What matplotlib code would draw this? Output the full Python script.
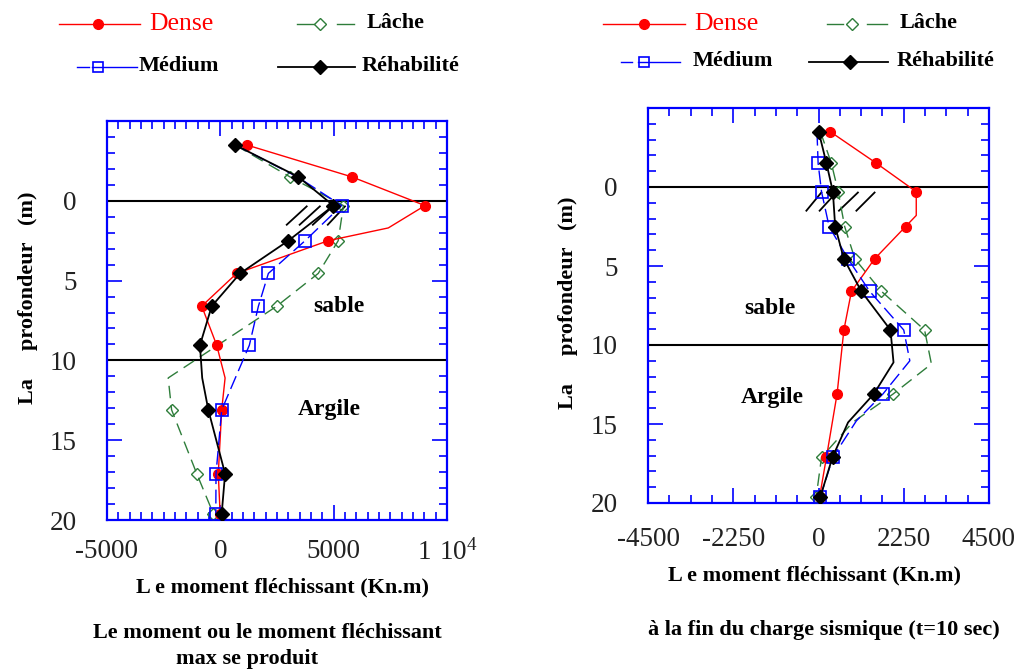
import matplotlib
matplotlib.use("Agg")
import matplotlib.pyplot as plt
from matplotlib.lines import Line2D
from matplotlib.ticker import MultipleLocator, FixedLocator, FixedFormatter

plt.rcParams['font.family'] = ['Liberation Serif', 'DejaVu Serif']
plt.rcParams['mathtext.fontset'] = 'custom'
plt.rcParams['mathtext.rm'] = 'Liberation Serif'

# ---------------- data ----------------
# Left chart: moment at the instant of maximum bending moment
L_dense_depth = [-3.5, -1.5, 0.3, 1.7, 2.5, 4.55, 6.6, 9.05, 11.1, 13.1, 17.1, 19.6]
L_dense_val   = [1160, 5800, 9030, 7410, 4760, 720, -820, -160, 210, 60, -90, -10]
L_dense_mk    = [0, 1, 2, 4, 5, 6, 7, 9, 10, 11]

L_lache_depth = [-3.5, -1.5, 0.3, 2.5, 4.55, 6.6, 11.1, 13.1, 17.1, 19.6]
L_lache_val   = [650, 3070, 5430, 5200, 4320, 2490, -2300, -2150, -1040, -310]
L_lache_mk    = [0, 1, 2, 3, 4, 5, 7, 8, 9]

L_medium_depth = [-3.5, -1.5, 0.3, 2.5, 4.55, 6.6, 9.05, 13.1, 17.1, 19.6]
L_medium_val   = [650, 3400, 5350, 3740, 2120, 1680, 1280, 60, -190, -200]
L_medium_mk    = [2, 3, 4, 5, 6, 7, 8, 9]

L_rehab_depth = [-3.5, -1.5, 0.3, 2.5, 4.55, 6.6, 9.05, 11.1, 13.1, 17.1, 19.6]
L_rehab_val   = [650, 3440, 4990, 3000, 870, -380, -900, -800, -530, 210, 60]
L_rehab_mk    = [0, 1, 2, 3, 4, 5, 6, 8, 9, 10]

# Right chart: at the end of the seismic loading (t=10 sec)
R_dense_depth = [-3.5, -1.5, 0.3, 1.8, 2.5, 4.55, 6.6, 9.05, 13.1, 17.1, 19.6]
R_dense_val   = [310, 1530, 2580, 2580, 2300, 1480, 870, 670, 490, 210, 30]
R_dense_mk    = [0, 1, 2, 4, 5, 6, 7, 8, 9, 10]

R_lache_depth = [-3.5, -1.5, 0.3, 2.5, 4.55, 6.6, 9.05, 11.2, 13.1, 14.9, 17.1, 19.6]
R_lache_val   = [50, 340, 520, 690, 960, 1660, 2800, 2980, 1970, 900, 80, -60]
R_lache_mk    = [0, 1, 2, 3, 4, 5, 6, 8, 10, 11]

R_medium_depth = [-3.5, -1.5, 0.3, 2.5, 4.55, 6.6, 9.05, 11.0, 13.1, 14.8, 17.1, 19.6]
R_medium_val   = [-40, -10, 80, 280, 780, 1350, 2250, 2410, 1700, 1000, 380, 50]
R_medium_mk    = [1, 2, 3, 4, 5, 6, 8, 10, 11]

R_rehab_depth = [-3.5, -1.5, 0.3, 2.5, 4.55, 6.6, 9.05, 11.1, 13.1, 14.9, 17.1, 19.6]
R_rehab_val   = [5, 210, 380, 440, 670, 1130, 1900, 1980, 1460, 780, 370, 50]
R_rehab_mk    = [0, 1, 2, 3, 4, 5, 6, 8, 10, 11]

# layer boundaries (m)
layer_lines = [0, 10]

# ground-surface hatch strokes (x start, x end, depth start, depth end)
L_hatch_x0 = [2930, 3500, 4080, 4740]
L_hatch_x1 = [3810, 4390, 4960, 5500]
R_hatch_x0 = [-320, 30, 540, 1000]
R_hatch_x1 = [75, 470, 1040, 1480]
hatch_d0, hatch_d1 = 1.5, 0.35

x_ticks_left = [-5000, 0, 5000, 10000]
x_ticklabels_left = ['-5000', '0', '5000', r'$\mathregular{1\ 10^{4}}$']
x_ticks_right = [-4500, -2250, 0, 2250, 4500]
x_ticklabels_right = ['-4500', '-2250', '0', '2250', '4500']
y_ticks = [-5, 0, 5, 10, 15, 20]
y_ticklabels = ['', '0', '5', '10', '15', '20']

RED = '#ff0000'
GREEN = '#2e7d3a'
BLUE = '#0000ff'
BLACK = '#000000'

W, H = 1019, 671
fig = plt.figure(figsize=(W / 100, H / 100), dpi=100)


def fx(px):
    return px / W


def fy(py):
    return 1 - py / H


def make_axes(l, t, r, b):
    return fig.add_axes([fx(l), fy(b), fx(r - l), (b - t) / H])


def style_axes(ax, xlim, xt, xtl, xminor, xpad, ypad):
    ax.set_xlim(*xlim)
    ax.set_ylim(20, -5)
    ax.xaxis.set_major_locator(FixedLocator(xt))
    ax.xaxis.set_major_formatter(FixedFormatter(xtl))
    ax.xaxis.set_minor_locator(MultipleLocator(xminor))
    ax.yaxis.set_major_locator(FixedLocator(y_ticks))
    ax.yaxis.set_major_formatter(FixedFormatter(y_ticklabels))
    ax.yaxis.set_minor_locator(MultipleLocator(1))
    ax.tick_params(which='both', direction='in', top=True, right=True,
                   color=BLUE, width=1.2, labelsize=19.5, labelcolor='#222222')
    ax.tick_params(which='major', length=11)
    ax.tick_params(which='minor', length=6)
    ax.tick_params(axis='x', which='major', pad=xpad)
    ax.tick_params(axis='y', which='major', pad=ypad)
    for s in ax.spines.values():
        s.set_color(BLUE)
        s.set_linewidth(1.6)
    for yl in layer_lines:
        ax.axhline(yl, color=BLACK, lw=1.5, zorder=2)


def plot_series(ax, dense, lache, medium, rehab):
    d, v, m = lache
    ax.plot(v, d, color=GREEN, lw=1.0, dashes=(9, 5), marker='D', ms=6.5,
            mfc='none', mec=GREEN, mew=1.0, markevery=m, zorder=3)
    d, v, m = dense
    ax.plot(v, d, color=RED, lw=1.0, marker='o', ms=7, mfc=RED, mec=RED,
            markevery=m, zorder=4)
    d, v, m = medium
    ax.plot(v, d, color=BLUE, lw=1.0, dashes=(10, 4), marker='s', ms=8,
            mfc='none', mec=BLUE, mew=1.2, markevery=m, zorder=5)
    d, v, m = rehab
    ax.plot(v, d, color=BLACK, lw=1.3, marker='D', ms=7.5, mfc=BLACK,
            mec=BLACK, markevery=m, zorder=6)


def hatch(ax, x0s, x1s):
    for a, b in zip(x0s, x1s):
        ax.plot([a, b], [hatch_d0, hatch_d1], color=BLACK, lw=1.3, zorder=2)


bold = dict(fontweight='bold', family=['Liberation Serif', 'DejaVu Serif'])

# ---------- left ----------
axL = make_axes(107, 121, 447, 520)
style_axes(axL, (-5000, 10000), x_ticks_left, x_ticklabels_left, 500, 14, 22)
plot_series(axL,
            (L_dense_depth, L_dense_val, L_dense_mk),
            (L_lache_depth, L_lache_val, L_lache_mk),
            (L_medium_depth, L_medium_val, L_medium_mk),
            (L_rehab_depth, L_rehab_val, L_rehab_mk))
hatch(axL, L_hatch_x0, L_hatch_x1)
axL.text(5240, 6.6, 'sable', ha='center', va='center', fontsize=17, **bold)
axL.text(4800, 13.1, 'Argile', ha='center', va='center', fontsize=17, **bold)

# ---------- right ----------
axR = make_axes(648, 108, 989, 503)
style_axes(axR, (-4500, 4500), x_ticks_right, x_ticklabels_right, 562.5, 17, 22)
plot_series(axR,
            (R_dense_depth, R_dense_val, R_dense_mk),
            (R_lache_depth, R_lache_val, R_lache_mk),
            (R_medium_depth, R_medium_val, R_medium_mk),
            (R_rehab_depth, R_rehab_val, R_rehab_mk))
hatch(axR, R_hatch_x0, R_hatch_x1)
axR.text(-1290, 7.7, 'sable', ha='center', va='center', fontsize=17, **bold)
axR.text(-1230, 13.3, 'Argile', ha='center', va='center', fontsize=17, **bold)

# ---------- axis labels & captions ----------
FS = 16
fig.text(fx(28), fy(298), 'La     profondeur   (m)', rotation=90,
         ha='center', va='center', fontsize=FS, **bold)
fig.text(fx(568), fy(303), 'La     profondeur   (m)', rotation=90,
         ha='center', va='center', fontsize=FS, **bold)
fig.text(fx(283), fy(587), 'L e moment fléchissant (Kn.m)', ha='center',
         va='center', fontsize=FS, **bold)
fig.text(fx(814), fy(575), 'L e moment fléchissant (Kn.m)', ha='center',
         va='center', fontsize=FS, **bold)
fig.text(fx(267), fy(633), 'Le moment ou le moment fléchissant', ha='center',
         va='center', fontsize=FS, **bold)
fig.text(fx(247), fy(659), 'max se produit', ha='center', va='center',
         fontsize=FS, **bold)
fig.text(fx(824), fy(630), 'à la fin du charge sismique (t=10 sec)',
         ha='center', va='center', fontsize=FS, **bold)


# ---------- legends (drawn manually) ----------
def seg(x0, x1, y, color, lw=1.0):
    ln = Line2D([fx(x0), fx(x1)], [fy(y), fy(y)], color=color, lw=lw,
                transform=fig.transFigure)
    fig.add_artist(ln)


def mk(x, y, marker, ms, fc, ec, mew=1.0):
    ln = Line2D([fx(x)], [fy(y)], marker=marker, ms=ms, mfc=fc, mec=ec,
                mew=mew, ls='none', transform=fig.transFigure)
    fig.add_artist(ln)


def legend(r1, r2, spec):
    # Dense
    seg(spec['d'][0], spec['d'][1], r1, RED)
    mk(spec['d'][2], r1, 'o', 7, RED, RED)
    fig.text(fx(spec['d'][3]), fy(r1), 'Dense', color=RED, fontsize=18.5,
             va='center', ha='left', family=['Liberation Serif', 'DejaVu Serif'])
    # Lache
    seg(spec['l'][0], spec['l'][1], r1, GREEN)
    mk(spec['l'][2], r1, 'D', 6.5, 'white', GREEN)
    seg(spec['l'][3], spec['l'][4], r1, GREEN)
    fig.text(fx(spec['l'][5]), fy(r1 - 1), 'Lâche', fontsize=FS,
             va='center', ha='left', **bold)
    # Medium
    seg(spec['m'][0], spec['m'][1], r2, BLUE)
    seg(spec['m'][2] - 6, spec['m'][3], r2, BLUE)
    mk(spec['m'][2], r2, 's', 7.5, 'none', BLUE, 1.2)
    fig.text(fx(spec['m'][4]), fy(r2 - 1), 'Médium', fontsize=FS,
             va='center', ha='left', **bold)
    # Rehab
    seg(spec['r'][0], spec['r'][1], r2, BLACK, lw=1.3)
    mk(spec['r'][2], r2, 'D', 7, BLACK, BLACK)
    fig.text(fx(spec['r'][3]), fy(r2 - 1), 'Réhabilité', fontsize=FS,
             va='center', ha='left', **bold)


legend(24, 67, dict(d=(59, 140, 98, 149), l=(297, 315, 320, 337, 354, 367),
                    m=(77, 89, 98, 137, 139), r=(278, 355, 320, 362)))
legend(24, 62, dict(d=(603, 685, 644, 694), l=(827, 843, 852, 867, 887, 900),
                    m=(621, 632, 644, 680, 693), r=(809, 888, 850, 897)))

fig.savefig('out.png', dpi=100)
